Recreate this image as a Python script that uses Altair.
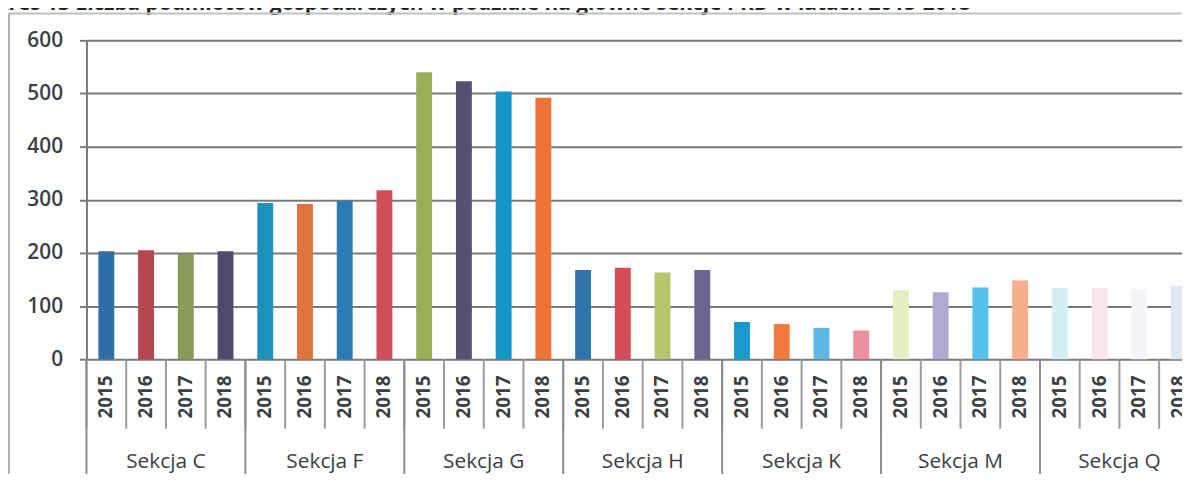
import altair as alt
import pandas as pd

title_text = "Wykres 13 Liczba podmiotów gospodarczych w podziale na główne sekcje PKD w latach 2015-2018"
sections = ["Sekcja C", "Sekcja F", "Sekcja G", "Sekcja H", "Sekcja K", "Sekcja M", "Sekcja Q"]
years = ["2015", "2016", "2017", "2018"]

values_C = [203, 205, 198, 203]
values_F = [294, 292, 298, 318]
values_G = [540, 523, 504, 492]
values_H = [168, 172, 163, 168]
values_K = [70, 66, 59, 54]
values_M = [130, 126, 135, 148]
values_Q = [134, 134, 132, 138]

colors_C = ["#2E6DA8", "#B5474F", "#8A9A5B", "#4F4B6E"]
colors_F = ["#1E92BE", "#E0733E", "#2C7BB6", "#CF4F58"]
colors_G = ["#9CAE55", "#555175", "#1596C9", "#EE7336"]
colors_H = ["#2F72AC", "#D64B55", "#B6C66F", "#6C658D"]
colors_K = ["#1C98CF", "#F27A3E", "#5DB8E8", "#EC8FA1"]
colors_M = ["#E4EFC4", "#B1A9D2", "#55C0EA", "#F9B08A"]
colors_Q = ["#D2EEF7", "#FAE6EA", "#F5F4F8", "#DCE8F4"]

all_values = [values_C, values_F, values_G, values_H, values_K, values_M, values_Q]
all_colors = [colors_C, colors_F, colors_G, colors_H, colors_K, colors_M, colors_Q]

rows = []
keys = []
colors = []
for s, vals, cols in zip(sections, all_values, all_colors):
    for y, v, c in zip(years, vals, cols):
        k = f"{s}|{y}"
        keys.append(k)
        colors.append(c)
        rows.append({"key": k, "section": s, "year": y, "value": v})
df = pd.DataFrame(rows)

TXT = "#3b4045"
GRID = "#7a7a7a"
FONT = "Open Sans"
H = 321  # plot height

xscale = alt.Scale(domain=keys, paddingInner=0, paddingOuter=0)

base = alt.Chart(df)

bars = base.mark_bar(width=alt.RelativeBandSize(0.4)).encode(
    x=alt.X("key:N", sort=keys, scale=xscale, axis=None),
    y=alt.Y(
        "value:Q",
        scale=alt.Scale(domain=[0, 600], nice=False),
        axis=alt.Axis(
            values=[0, 100, 200, 300, 400, 500, 600],
            title=None,
            grid=True,
            gridColor=GRID,
            gridWidth=2,
            domainColor=GRID,
            domainWidth=2,
            tickColor=GRID,
            tickWidth=2,
            tickSize=7,
            labelPadding=17,
            labelFont=FONT,
            labelFontSize=21,
            labelFontWeight=600,
            labelColor=TXT,
        ),
    ),
    color=alt.Color("key:N", scale=alt.Scale(domain=keys, range=colors), legend=None),
)

year_labels = base.mark_text(
    angle=270, align="center", baseline="middle", font=FONT, fontSize=19,
    fontWeight="bold", color=TXT,
).encode(
    x=alt.X("key:N", sort=keys, axis=None),
    y=alt.value(H + 38),
    text="year:N",
)

year_seps = base.mark_rule(color="#9c9c9c", strokeWidth=2).encode(
    x=alt.X("key:N", sort=keys, bandPosition=0, axis=None),
    y=alt.value(H),
    y2=alt.value(H + 70),
)

group_seps = base.transform_filter(alt.datum.year == "2015").mark_rule(
    color="#8c8c8c", strokeWidth=2
).encode(
    x=alt.X("key:N", sort=keys, bandPosition=0, axis=None),
    y=alt.value(H),
    y2=alt.value(H + 118),
)

group_labels = base.transform_filter(alt.datum.year == "2017").mark_text(
    align="center", baseline="middle", font=FONT, fontSize=21, color=TXT,
).encode(
    x=alt.X("key:N", sort=keys, bandPosition=0, axis=None),
    y=alt.value(H + 104),
    text="section:N",
)

title = alt.Chart(pd.DataFrame({"t": [title_text]})).mark_text(
    align="right", baseline="alphabetic", font=FONT, fontSize=21,
    fontWeight="bold", color="#222222",
).encode(text="t:N", x=alt.value(890), y=alt.value(-31))

frame_left = alt.Chart(pd.DataFrame({"a": [0]})).mark_rule(
    color="#b0b0b0", strokeWidth=2
).encode(x=alt.value(-78), y=alt.value(-27), y2=alt.value(H + 140))

frame_top = alt.Chart(pd.DataFrame({"a": [0]})).mark_rule(
    color="#c0c0c0", strokeWidth=2
).encode(x=alt.value(-79), x2=alt.value(1120), y=alt.value(-27))

chart = alt.layer(
    bars, year_seps, group_seps, year_labels, group_labels, title, frame_left, frame_top
).properties(
    width=1120,
    height=H,
    padding={"left": 79, "top": 31, "right": -17, "bottom": 114},
    autosize=alt.AutoSizeParams(type="none"),
).configure_view(stroke=None).configure(background="white")

chart.save("out.html", embed_options={"renderer": "svg", "actions": False})
